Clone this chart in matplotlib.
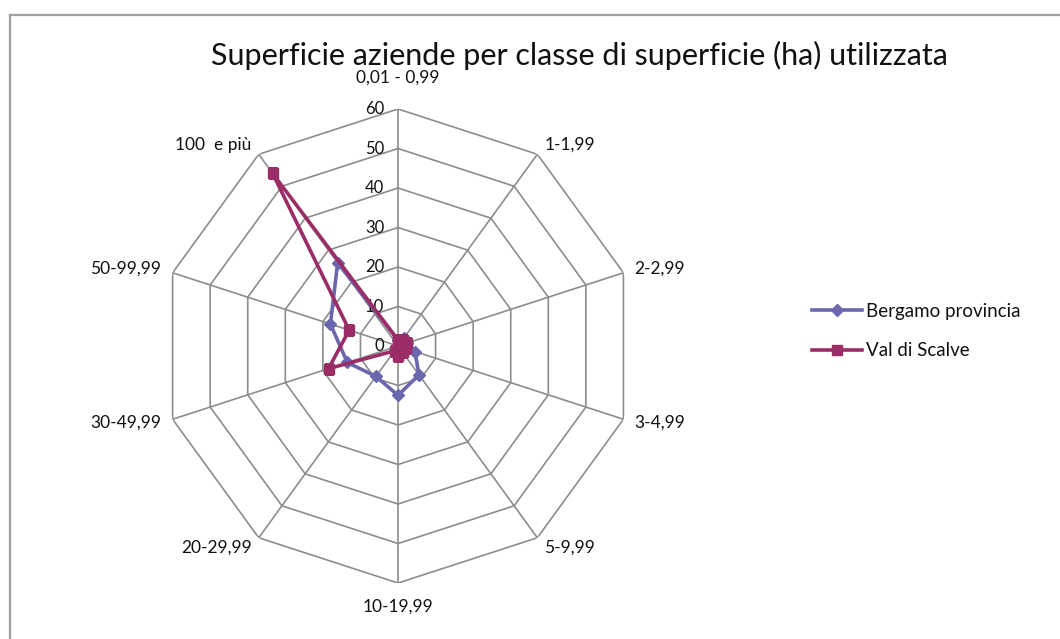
import numpy as np
import matplotlib
matplotlib.use("Agg")
import matplotlib.pyplot as plt
from matplotlib.lines import Line2D

plt.rcParams['font.family'] = ['Lato', 'DejaVu Sans']

# classi di superficie (ha)
categorie = ['0,01 - 0,99', '1-1,99', '2-2,99', '3-4,99', '5-9,99',
             '10-19,99', '20-29,99', '30-49,99', '50-99,99', '100  e più']
# quota di superficie per classe (%)
bergamo = [1.5, 2.5, 2.5, 4.5, 9.0, 12.5, 9.5, 13.5, 18.0, 26.0]
scalve = [1.5, 2.0, 2.5, 2.0, 2.0, 2.5, 1.5, 18.5, 13.0, 54.0]
livelli = [0, 10, 20, 30, 40, 50, 60]

col_bg = '#6A67AE'
col_vs = '#9B2D66'
col_grid = '#8C8C8C'
col_txt = '#111111'

fig = plt.figure(figsize=(10.6, 6.39), dpi=100)
ax = fig.add_axes([0.1519, 0.0875, 0.4472, 0.742], projection='polar')
ax.set_theta_zero_location('N')
ax.set_theta_direction(-1)
ax.set_ylim(0, 60)
ax.grid(False)
ax.spines['polar'].set_visible(False)
ax.set_xticks([])
ax.set_yticks([])
ax.patch.set_alpha(0)

n = len(categorie)
ang = np.arange(n) * 2 * np.pi / n
ang_c = np.append(ang, ang[0])

# griglia poligonale
for v in livelli[1:]:
    ax.plot(ang_c, [v] * (n + 1), color=col_grid, lw=1.2, zorder=1)
for a in ang:
    ax.plot([a, a], [0, livelli[-1]], color=col_grid, lw=1.2, zorder=1)

# etichette dell'asse radiale
for v in livelli:
    ax.annotate(str(v), xy=(0, v), xytext=(-10, 0), textcoords='offset points',
                ha='right', va='center', fontsize=12, color=col_txt)

# etichette delle categorie
for a, lab in zip(ang, categorie):
    s = np.sin(a)
    c = np.cos(a)
    ha = 'center' if abs(s) < 0.1 else ('left' if s > 0 else 'right')
    r = 63
    if abs(s) < 0.1:
        va = 'bottom' if c > 0 else 'top'
        r = 66 if c > 0 else 64
    else:
        va = 'center'
    ax.text(a, r, lab, ha=ha, va=va, fontsize=12.5, color=col_txt)

b_c = bergamo + bergamo[:1]
s_c = scalve + scalve[:1]
ax.plot(ang_c, b_c, color=col_bg, lw=2.6, marker='D', ms=6.5, zorder=3,
        label='Bergamo provincia')
ax.plot(ang_c, s_c, color=col_vs, lw=2.6, marker='s', ms=6.5, zorder=4,
        label='Val di Scalve')

fig.text(0.547, 0.914, 'Superficie aziende per classe di superficie (ha) utilizzata',
         ha='center', va='center', fontsize=22, color=col_txt)

leg = fig.legend(loc='center left', bbox_to_anchor=(0.757, 0.482), frameon=False,
                 fontsize=13.5, handlelength=2.7, handletextpad=0.2, labelspacing=1.2,
                 borderpad=0)
for t in leg.get_texts():
    t.set_color(col_txt)

# cornice del grafico
fig.add_artist(Line2D([9.5 / 1060, 1], [1 - 14.5 / 639] * 2, transform=fig.transFigure,
                      color='#A0A0A0', lw=1.6))
fig.add_artist(Line2D([9.5 / 1060] * 2, [0, 1 - 14.5 / 639], transform=fig.transFigure,
                      color='#A0A0A0', lw=1.6))

fig.savefig('out.png', dpi=100)
